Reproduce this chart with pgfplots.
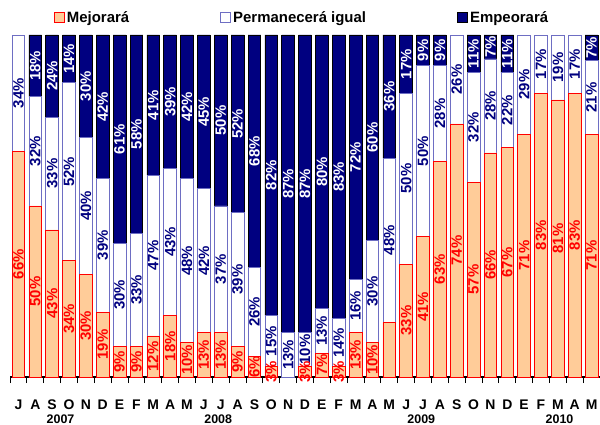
\documentclass[border=0pt]{standalone}
\usepackage{pgfplots}
\pgfplotsset{compat=1.18}
\usepackage{pgfplotstable}
\usepackage{fontspec}
\setmainfont{Liberation Sans}
\definecolor{mejo}{RGB}{255,204,153}
\definecolor{mejoedge}{RGB}{255,0,0}
\definecolor{permedge}{RGB}{110,110,195}
\definecolor{empe}{RGB}{0,0,128}

\pgfplotstableread{
x m ml p pl e el
0 66 66 34 34 0 0
1 50 50 32 32 18 18
2 43 43 33 33 24 24
3 34 34 52 52 14 14
4 30 30 40 40 30 30
5 19 19 39 39 42 42
6 9 9 30 30 61 61
7 9 9 33 33 58 58
8 12 12 47 47 41 41
9 18 18 43 43 39 39
10 10 10 48 48 42 42
11 13 13 42 42 45 45
12 13 13 37 37 50 50
13 9 9 39 39 52 52
14 6 6 26 26 68 68
15 3 3 15 15 82 82
16 0 0 13 13 87 87
17 3 3 10 10 87 87
18 7 7 13 13 80 80
19 3 3 14 14 83 83
20 13 13 15.5 16 71.5 72
21 10 10 30 30 60 60
22 16 0 48 48 36 36
23 33 33 50 50 17 17
24 41 41 50 50 9 9
25 63 63 28 28 9 9
26 74 74 26 26 0 0
27 57 57 32 32 11 11
28 65.5 66 27.5 28 7 7
29 67 67 22 22 11 11
30 71 71 29 29 0 0
31 83 83 17 17 0 0
32 81 81 19 19 0 0
33 83 83 17 17 0 0
34 71 71 21.5 21 7.5 7
}\data

\begin{document}
\begin{tikzpicture}
\useasboundingbox (-10bp,-48bp) rectangle (590bp,377bp);
\begin{axis}[
  at={(0,0)}, anchor=south west,
  width=590bp, height=342bp, scale only axis,
  ybar stacked, bar width=12.7bp,
  xmin=-0.5, xmax=34.5, ymin=0, ymax=100,
  clip=false,
  axis y line=none, axis x line*=bottom,
  x axis line style={line width=1.3bp, black, -},
  xtick={0,...,34},
  xticklabels={J,A,S,O,N,D,E,F,M,A,M,J,J,A,S,O,N,D,E,F,M,A,M,J,J,A,S,O,N,D,E,F,M,A,M},
  major tick length=0pt,
  minor xtick={-0.5,0.5,...,34.5},
  minor tick length=6bp,
  tick align=outside,
  xtick pos=bottom,
  minor x tick style={line width=1bp, black},
  xticklabel style={font=\bfseries\fontsize{14}{14}\selectfont, anchor=base, yshift=-32.5bp},
  extra x ticks={2.5,11.85,23.9,32.1},
  extra x tick labels={2007,2008,2009,2010},
  extra x tick style={major tick length=0pt, xticklabel style={font=\bfseries\fontsize{12.5}{12.5}\selectfont, anchor=base, yshift=-14bp}},
  point meta=explicit symbolic,
  nodes near coords={\ifnum\pgfplotspointmeta=0\relax\else\pgfplotspointmeta\%\fi},
  every node near coord/.append style={rotate=90, anchor=center, inner sep=0pt, font=\bfseries\fontsize{15}{15}\selectfont},
  legend columns=3,
  legend style={at={(0.495,1)}, anchor=center, yshift=17bp, draw=none, fill=none,
    font=\bfseries\fontsize{15}{15}\selectfont,
    /tikz/every even column/.append style={column sep=89bp}},
  mylegend/.style={legend image code/.code={\draw[##1, line width=1bp] (0bp,-5bp) rectangle (10bp,5bp);}},
]
\addplot[fill=mejo, draw=mejoedge, line width=0.8bp, mylegend,
  every node near coord/.append style={text=mejoedge}]
  table[x=x, y=m, meta=ml] {\data};
\addlegendentry{Mejorará}
\addplot[fill=white, draw=permedge, line width=0.8bp, mylegend,
  every node near coord/.append style={text=empe}]
  table[x=x, y=p, meta=pl] {\data};
\addlegendentry{Permanecerá igual}
\addplot[fill=empe, draw=black, line width=0.8bp, mylegend,
  every node near coord/.append style={text=white}]
  table[x=x, y=e, meta=el] {\data};
\addlegendentry{Empeorará}
\end{axis}
\end{tikzpicture}
\end{document}
